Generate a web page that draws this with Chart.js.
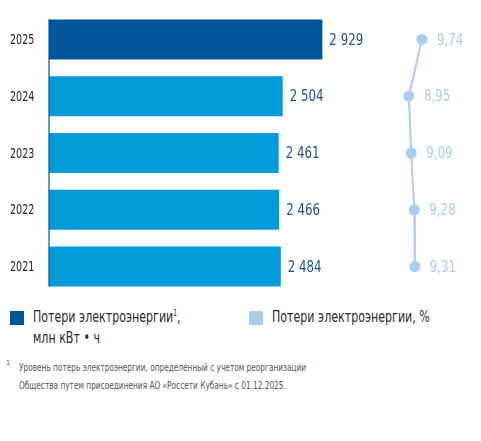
<!DOCTYPE html>
<html>
<head>
<meta charset="utf-8">
<script src="https://cdn.jsdelivr.net/npm/chart.js@4.4.1/dist/chart.umd.min.js"></script>
<style>
  body { margin: 0; background: #fff; font-family: 'DejaVu Sans Condensed', 'DejaVu Sans', sans-serif; }
  #wrap { position: relative; width: 481px; height: 441px; }
  #chartBox { position: absolute; left: 0; top: 0; width: 481px; height: 300px; }
  .sq { position: absolute; width: 14px; height: 14px; }
  .lg { position: absolute; font-size: 15px; line-height: 21px; color: #2a2a2a; transform: scaleX(0.82); transform-origin: 0 0; white-space: nowrap; }
  .lg sup { font-size: 8px; vertical-align: 6px; line-height: 0; }
  .note { position: absolute; left: 19px; top: 359px; font-size: 10px; line-height: 18px; color: #555; transform: scaleX(0.82); transform-origin: 0 0; white-space: nowrap; }
  .noteMark { position: absolute; left: 6px; top: 359px; font-size: 7px; color: #555; }
</style>
</head>
<body>
<div id="wrap">
  <div id="chartBox"><canvas id="lossChart"></canvas></div>
  <div class="sq" style="left:10px; top:311px; background:#00569a;"></div>
  <div class="lg" style="left:33px; top:307px;">Потери электроэнергии<sup>1</sup>,<br>млн кВт • ч</div>
  <div class="sq" style="left:249px; top:311px; background:#a8cdef;"></div>
  <div class="lg" style="left:272px; top:307px;">Потери электроэнергии, %</div>
  <div class="noteMark">1</div>
  <div class="note">Уровень потерь электроэнергии, определенный с учетом реорганизации<br>Общества путем присоединения АО «Россети Кубань» с 01.12.2025.</div>
</div>
<script>
const years = ['2025', '2024', '2023', '2022', '2021'];
const lossVolume = [2929, 2504, 2461, 2466, 2484];
const lossPercent = [9.74, 8.95, 9.09, 9.28, 9.31];

const darkBlue = '#00569a';
const midBlue = '#009bd8';
const lightBlue = '#a8cdef';
const valueFont = "16px 'DejaVu Sans Condensed', 'DejaVu Sans', sans-serif";

function fmtVolume(v) {
    return v.toString().replace(/\B(?=(\d{3})+(?!\d))/g, ' ');
}

function fmtPercent(v) {
    return v.toFixed(2).replace('.', ',');
}

// narrow text, like the condensed face of the original
function narrowText(ctx, text, x, y, k) {
    ctx.save();
    ctx.translate(x, y);
    ctx.scale(k || 0.82, 1);
    ctx.fillText(text, 0, 0);
    ctx.restore();
}

// draws the left axis line, the year labels and the value labels
const labelsPlugin = {
    id: 'labelsPlugin',
    afterDatasetsDraw(chart) {
        const ctx = chart.ctx;
        const bars = chart.getDatasetMeta(0).data;
        const points = chart.getDatasetMeta(1).data;

        ctx.save();
        const first = bars[0], last = bars[bars.length - 1];
        ctx.strokeStyle = darkBlue;
        ctx.lineWidth = 1.2;
        ctx.beginPath();
        ctx.moveTo(first.base, first.y - first.height / 2);
        ctx.lineTo(first.base, last.y + last.height / 2);
        ctx.stroke();

        ctx.font = valueFont;
        ctx.textBaseline = 'middle';
        ctx.textAlign = 'left';
        bars.forEach((bar, i) => {
            ctx.fillStyle = '#1e4f8f';
            narrowText(ctx, fmtVolume(lossVolume[i]), bar.x + 7, bar.y + 1);
        });
        points.forEach((pt, i) => {
            ctx.fillStyle = lightBlue;
            narrowText(ctx, fmtPercent(lossPercent[i]), pt.x + 15, pt.y + 1);
        });

        ctx.fillStyle = '#222';
        ctx.font = "14px 'DejaVu Sans Condensed', 'DejaVu Sans', sans-serif";
        bars.forEach((bar, i) => {
            narrowText(ctx, years[i], 10, bar.y + 1, 0.76);
        });
        ctx.restore();
    }
};

const ctx = document.getElementById('lossChart').getContext('2d');
new Chart(ctx, {
    type: 'bar',
    data: {
        labels: years,
        datasets: [{
            type: 'bar',
            data: lossVolume,
            backgroundColor: years.map((y, i) => i === 0 ? darkBlue : midBlue),
            borderWidth: 0,
            categoryPercentage: 1,
            barPercentage: 0.704,
            xAxisID: 'x',
            order: 2
        }, {
            type: 'line',
            indexAxis: 'y',
            data: lossPercent,
            borderColor: lightBlue,
            backgroundColor: lightBlue,
            borderWidth: 2,
            pointRadius: 5.5,
            pointBorderWidth: 0,
            pointHoverRadius: 5.5,
            fill: false,
            tension: 0,
            xAxisID: 'x2',
            order: 1
        }]
    },
    options: {
        indexAxis: 'y',
        responsive: true,
        maintainAspectRatio: false,
        animation: false,
        layout: { padding: { top: 11, bottom: 5, right: 12, left: 49 }, autoPadding: false },
        plugins: {
            legend: { display: false },
            tooltip: { enabled: false }
        },
        scales: {
            x: { display: false, min: 0, max: 4500 },
            x2: { display: false, min: -12.9, max: 12.6 },
            y: { display: false }
        }
    },
    plugins: [labelsPlugin]
});
</script>
</body>
</html>
